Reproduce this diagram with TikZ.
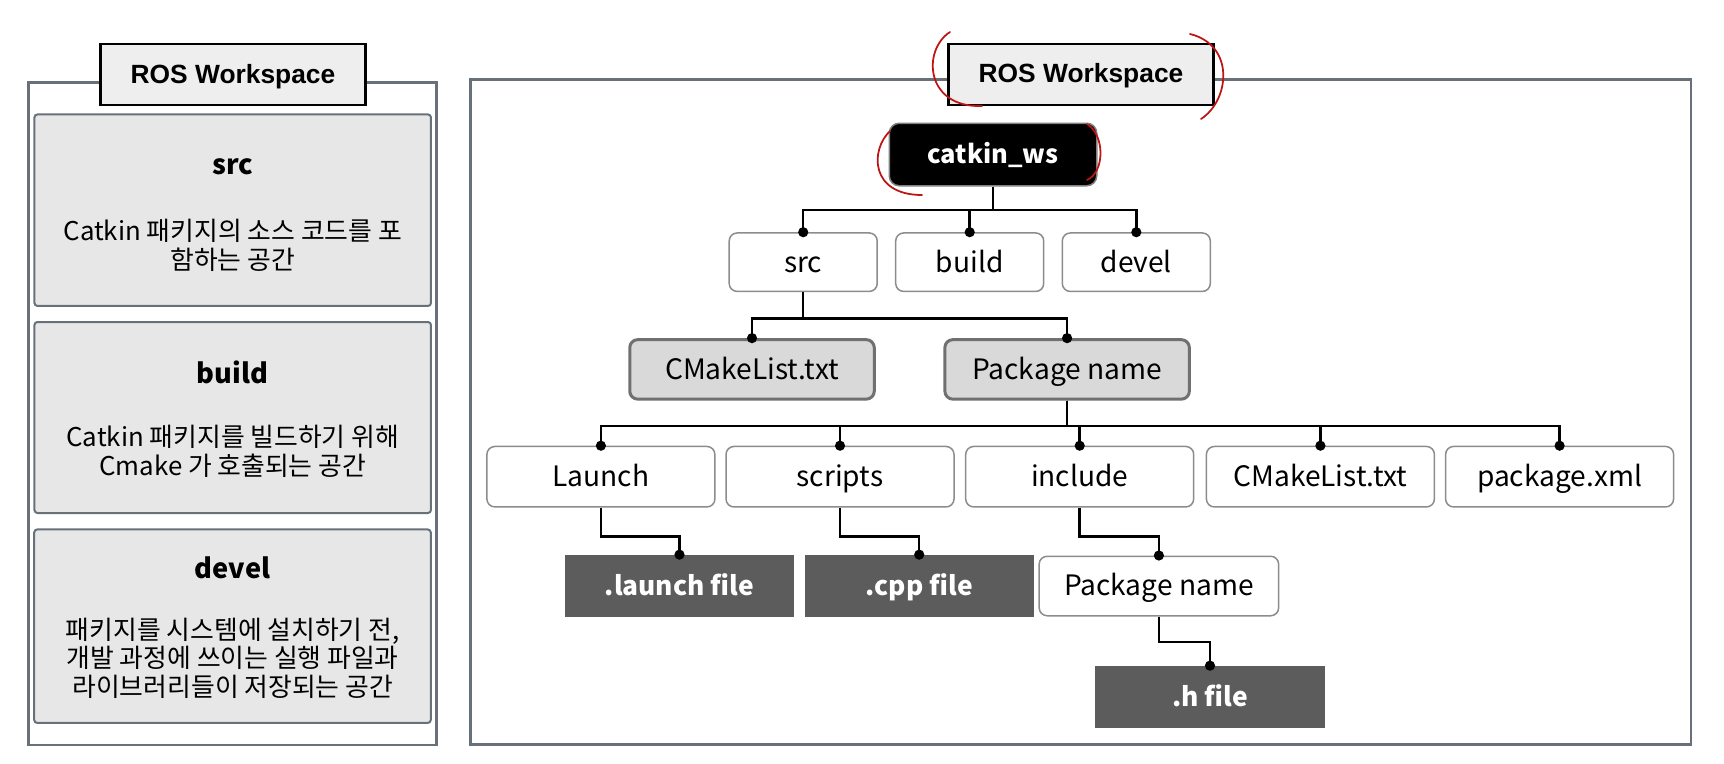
\documentclass[tikz,border=0pt]{standalone}
\usepackage{fontspec}
\setmainfont{Noto Sans CJK KR}
\newfontfamily\rosfont{Liberation Sans}
\usetikzlibrary{arrows.meta}
\definecolor{framegray}{RGB}{104,113,122}
\definecolor{titlegray}{RGB}{238,238,238}
\definecolor{infogray}{RGB}{231,231,231}
\definecolor{leafgray}{RGB}{140,140,140}
\definecolor{groupgray}{RGB}{112,112,112}
\definecolor{groupfill}{RGB}{217,217,217}
\definecolor{filegray}{RGB}{92,92,92}
\definecolor{annored}{RGB}{190,20,20}

\begin{document}
\begin{tikzpicture}[x=0.2mm,y=-0.2mm,
frame/.style={draw=framegray,line width=0.45mm},
wstitle/.style={draw=black,line width=0.45mm,fill=titlegray,minimum width=53mm,minimum height=12.2mm,inner sep=0pt,text height=11pt,text depth=1pt,font=\rosfont\bfseries\fontsize{15}{18}\selectfont},
infobox/.style={draw=framegray,line width=0.4mm,fill=infogray,rounded corners=0.6mm,minimum width=79.3mm,inner sep=0pt},
infohead/.style={font=\bfseries\fontsize{15.5}{19}\selectfont},
infotext/.style={align=center,font=\fontsize{14.7}{16.3}\selectfont},
leaf/.style={draw=leafgray,line width=0.3mm,fill=white,rounded corners=1.6mm,minimum height=12.1mm,inner sep=0pt,text height=12.5pt,text depth=1.3pt,font=\fontsize{16}{19}\selectfont},
group/.style={leaf,draw=groupgray,line width=0.6mm,fill=groupfill,minimum width=48.9mm,minimum height=11.9mm},
filebox/.style={fill=filegray,text=white,minimum width=46mm,minimum height=12.4mm,inner sep=0pt,text height=11.7pt,text depth=1.2pt,font=\bfseries\fontsize{15}{18}\selectfont},
link/.style={line width=0.5mm,-{Circle[length=2mm]},shorten >=-1mm},
redmark/.style={draw=annored,line width=0.35mm,line cap=round}]
\useasboundingbox (0,0) rectangle (1724,763);
% left panel
\draw[frame] (28.5,82.5) rectangle (436.5,745);
\node[wstitle] (ltitle) at (233,74.7) {ROS Workspace};
\node[infobox,minimum height=38.3mm] (lsrc) at (232.7,210.2) {};
\node[infohead] at (232.7,167) {src};
\node[infotext] at (232.7,245) {Catkin 패키지의 소스 코드를 포\\함하는 공간};
\node[infobox,minimum height=38.2mm] (lbuild) at (232.7,417.5) {};
\node[infohead] at (232.7,372.5) {build};
\node[infotext] at (232.7,451.3) {Catkin 패키지를 빌드하기 위해\\Cmake 가 호출되는 공간};
\node[infobox,minimum height=38.7mm] (ldevel) at (232.5,626.2) {};
\node[infohead] at (232.7,567.5) {devel};
\node[infotext] at (232.7,658.3) {패키지를 시스템에 설치하기 전,\\개발 과정에 쓰이는 실행 파일과\\라이브러리들이 저장되는 공간};
% right panel
\draw[frame] (470.6,79.5) rectangle (1691,744.5);
\node[wstitle] (rtitle) at (1081,74.2) {ROS Workspace};
\node[fill=black,draw=gray,line width=0.3mm,rounded corners=2mm,text=white,minimum width=41.5mm,minimum height=12.5mm,inner sep=0pt,text height=11.3pt,text depth=1.2pt,font=\bfseries\fontsize{14.5}{18}\selectfont] (catkin) at (993,154.5) {catkin\_ws};
\foreach \x/\n in {803.2/src,969.7/build,1136.3/devel}{\node[leaf,minimum width=29.6mm,minimum height=11.7mm] (\n) at (\x,262.2) {\n};}
\node[group] (cmake) at (752,369.4) {CMakeList.txt};
\node[group] (pkg) at (1067.1,369.4) {Package name};
\foreach \x/\n/\t in {600.9/launch/Launch,840/scripts/scripts,1079.7/include/include,1320.4/cmake2/CMakeList.txt,1559.6/pkgxml/package.xml}{\node[leaf,minimum width=45.6mm] (\n) at (\x,476.7) {\t};}
\node[filebox,minimum width=45.8mm] (lfile) at (679.5,586) {.launch file};
\node[filebox,minimum width=45.8mm] (cfile) at (919.2,586) {.cpp file};
\node[leaf,minimum width=47.9mm,minimum height=11.9mm] (pkg2) at (1158.9,586) {Package name};
\node[filebox] (hfile) at (1210,697) {.h file};
% tree links
\foreach \n in {src,build,devel}{\draw[link] (catkin.south) -- ++(0,23.6) -| (\n.north);}
\foreach \n in {cmake,pkg}{\draw[link] (src.south) -- ++(0,26.4) -| (\n.north);}
\foreach \n in {launch,scripts,include,cmake2,pkgxml}{\draw[link] (pkg.south) -- ++(0,25.4) -| (\n.north);}
\draw[link] (launch.south) -- ++(0,28.6) -| (lfile.north);
\draw[link] (scripts.south) -- ++(0,28.6) -| (cfile.north);
\draw[link] (include.south) -- ++(0,28.6) -| (pkg2.north);
\draw[link] (pkg2.south) -- ++(0,25.3) -| (hfile.north);
% red pen marks
\draw[redmark] (950,32) .. controls (922,50) and (925,108) .. (982,106);
\draw[redmark] (1190,34) .. controls (1235,45) and (1230,100) .. (1201,119);
\draw[redmark] (890,131) .. controls (870,150) and (870,195) .. (922,195);
\draw[redmark] (1087,124) .. controls (1105,135) and (1105,172) .. (1087,180);
\end{tikzpicture}
\end{document}
